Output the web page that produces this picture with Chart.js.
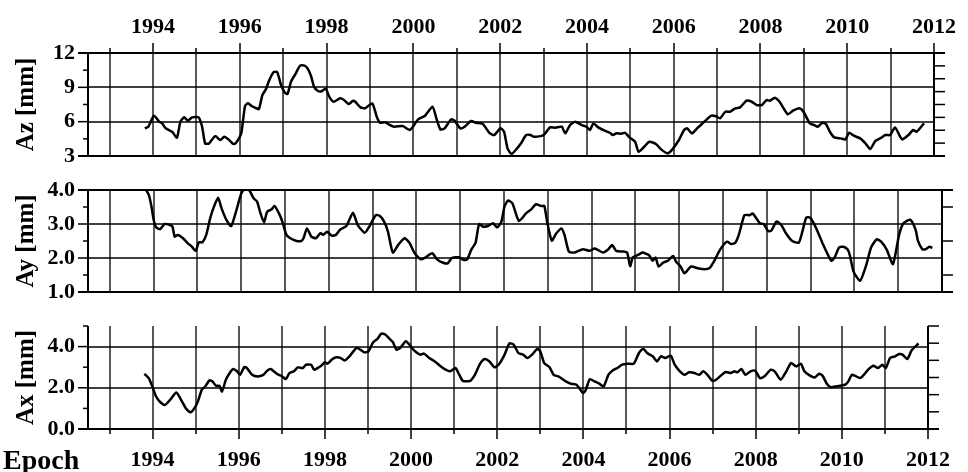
<!DOCTYPE html>
<html>
<head>
<meta charset="utf-8">
<script src="https://cdn.jsdelivr.net/npm/chart.js@4.4.1/dist/chart.umd.min.js"></script>
<style>
  body { margin: 0; background: #fff; }
  #wrap { position: relative; width: 968px; height: 472px; }
  #wrap canvas { position: absolute; left: 0; top: 0; }
</style>
</head>
<body>
<div id="wrap">
  <canvas id="cAz" width="968" height="472"></canvas>
  <canvas id="cAy" width="968" height="472"></canvas>
  <canvas id="cAx" width="968" height="472"></canvas>
</div>
<script>
// Années des graduations (grille verticale)
const yearTicks = [1993, 1994, 1995, 1996, 1997, 1998, 1999, 2000, 2001, 2002,
                   2003, 2004, 2005, 2006, 2007, 2008, 2009, 2010, 2011, 2012];

// Az [mm]
const azEpoch = [1993.81, 1993.89, 1994.02, 1994.14, 1994.21, 1994.29, 1994.44, 1994.55, 1994.63, 1994.72,
  1994.8, 1994.9, 1995.05, 1995.13, 1995.2, 1995.29, 1995.43, 1995.55, 1995.64, 1995.74,
  1995.85, 1995.9, 1996.0, 1996.04, 1996.12, 1996.19, 1996.27, 1996.38, 1996.44, 1996.52,
  1996.6, 1996.68, 1996.78, 1996.86, 1996.95, 1997.04, 1997.1, 1997.18, 1997.28, 1997.39,
  1997.49, 1997.56, 1997.64, 1997.71, 1997.8, 1997.9, 1997.98, 1998.06, 1998.16, 1998.31,
  1998.4, 1998.51, 1998.61, 1998.66, 1998.78, 1998.89, 1999.05, 1999.16, 1999.23, 1999.35,
  1999.43, 1999.56, 1999.75, 1999.84, 1999.92, 2000.0, 2000.11, 2000.26, 2000.44, 2000.53,
  2000.62, 2000.72, 2000.87, 2000.95, 2001.08, 2001.18, 2001.33, 2001.44, 2001.6, 2001.75,
  2001.86, 2002.01, 2002.09, 2002.17, 2002.26, 2002.39, 2002.49, 2002.6, 2002.7, 2002.77,
  2003.0, 2003.15, 2003.27, 2003.42, 2003.5, 2003.61, 2003.73, 2003.88, 2003.99, 2004.07,
  2004.15, 2004.26, 2004.41, 2004.53, 2004.6, 2004.68, 2004.79, 2004.88, 2004.98, 2005.11,
  2005.19, 2005.32, 2005.44, 2005.59, 2005.71, 2005.86, 2005.97, 2006.12, 2006.24, 2006.31,
  2006.42, 2006.54, 2006.65, 2006.86, 2006.96, 2007.07, 2007.19, 2007.3, 2007.42, 2007.53,
  2007.68, 2007.8, 2007.91, 2008.03, 2008.14, 2008.22, 2008.33, 2008.44, 2008.63, 2008.75,
  2008.9, 2008.99, 2009.14, 2009.24, 2009.32, 2009.43, 2009.51, 2009.6, 2009.7, 2009.85,
  2009.96, 2010.04, 2010.15, 2010.3, 2010.42, 2010.53, 2010.65, 2010.76, 2010.88, 2010.99,
  2011.1, 2011.22, 2011.27, 2011.41, 2011.52, 2011.6, 2011.77];
const azValue = [5.42, 5.56, 6.52, 6.0, 5.85, 5.42, 5.12, 4.6, 6.0, 6.38,
  6.08, 6.38, 6.38, 5.56, 4.1, 4.1, 4.74, 4.4, 4.68, 4.45,
  4.05, 4.1, 4.68, 5.12, 7.37, 7.6, 7.37, 7.17, 7.1, 8.33,
  8.83, 9.64, 10.34, 10.34, 9.2, 8.53, 8.42, 9.5, 10.16, 10.9,
  10.9, 10.66, 10.0, 9.06, 8.68, 8.68, 8.91, 8.18, 7.74, 8.04,
  7.9, 7.54, 7.83, 7.74, 7.25, 7.17, 7.6, 6.38, 5.91, 5.95,
  5.77, 5.56, 5.62, 5.42, 5.27, 5.62, 6.2, 6.49, 7.3, 6.29,
  5.33, 5.42, 6.2, 6.08, 5.42, 5.56, 6.06, 5.91, 5.8, 5.03,
  4.83, 5.42, 5.12, 3.67, 3.17, 3.67, 4.16, 4.83, 4.83, 4.68,
  4.83, 5.5, 5.47, 5.56, 4.98, 5.7, 6.0, 5.7, 5.56, 5.27,
  5.85, 5.5, 5.21, 5.03, 4.83, 4.98, 4.95, 5.03, 4.63, 4.25,
  3.37, 3.81, 4.25, 4.05, 3.58, 3.23, 3.58, 4.4, 5.27, 5.42,
  4.98, 5.42, 5.8, 6.52, 6.49, 6.29, 6.87, 6.87, 7.17, 7.25,
  7.83, 7.74, 7.45, 7.45, 7.89, 7.83, 8.1, 7.74, 6.64, 6.96,
  7.17, 6.87, 5.85, 5.7, 5.56, 5.91, 5.8, 5.12, 4.63, 4.54,
  4.45, 5.03, 4.77, 4.54, 4.1, 3.61, 4.33, 4.54, 4.83, 4.83,
  5.5, 4.68, 4.45, 4.83, 5.27, 5.12, 5.85];

// Ay [mm]
const ayEpoch = [1993.81, 1993.89, 1993.95, 1994.0, 1994.06, 1994.15, 1994.25, 1994.37, 1994.43, 1994.48,
  1994.55, 1994.67, 1994.78, 1994.86, 1994.96, 1995.03, 1995.11, 1995.2, 1995.29, 1995.37,
  1995.47, 1995.55, 1995.66, 1995.77, 1995.89, 1996.0, 1996.1, 1996.19, 1996.28, 1996.36,
  1996.44, 1996.52, 1996.59, 1996.69, 1996.76, 1996.88, 1996.95, 1997.03, 1997.12, 1997.26,
  1997.37, 1997.42, 1997.5, 1997.6, 1997.7, 1997.81, 1997.87, 1997.96, 1998.06, 1998.16,
  1998.26, 1998.4, 1998.55, 1998.66, 1998.82, 1998.93, 1999.07, 1999.16, 1999.27, 1999.35,
  1999.46, 1999.58, 1999.73, 1999.84, 1999.96, 2000.1, 2000.21, 2000.36, 2000.47, 2000.61,
  2000.71, 2000.8, 2000.89, 2000.98, 2001.08, 2001.16, 2001.25, 2001.35, 2001.43, 2001.52,
  2001.63, 2001.75, 2001.84, 2001.94, 2002.01, 2002.09, 2002.19, 2002.34, 2002.5, 2002.62,
  2002.73, 2002.85, 2002.92, 2002.99, 2003.09, 2003.19, 2003.31, 2003.38, 2003.48, 2003.61,
  2003.8, 2003.95, 2004.07, 2004.26, 2004.37, 2004.47, 2004.56, 2004.72, 2004.81, 2004.88,
  2004.94, 2005.06, 2005.16, 2005.25, 2005.32, 2005.39, 2005.46, 2005.53, 2005.63, 2005.74,
  2005.86, 2005.93, 2006.03, 2006.12, 2006.27, 2006.42, 2006.58, 2006.69, 2006.81, 2006.94,
  2007.09, 2007.19, 2007.28, 2007.36, 2007.49, 2007.61, 2007.68, 2007.84, 2007.93, 2008.03,
  2008.1, 2008.22, 2008.33, 2008.44, 2008.58, 2008.73, 2008.82, 2008.9, 2008.99, 2009.13,
  2009.28, 2009.47, 2009.55, 2009.65, 2009.75, 2009.85, 2009.9, 2009.98, 2010.13, 2010.27,
  2010.38, 2010.51, 2010.61, 2010.74, 2010.88, 2011.02, 2011.12, 2011.28, 2011.4, 2011.45,
  2011.55, 2011.63, 2011.71, 2011.78];
const ayValue = [4.03, 3.85, 3.51, 3.12, 2.9, 2.85, 3.0, 2.97, 2.92, 2.63,
  2.68, 2.58, 2.43, 2.35, 2.21, 2.46, 2.46, 2.68, 3.17, 3.49,
  3.77, 3.46, 3.12, 2.94, 3.41, 3.9, 4.08, 3.98, 3.76, 3.66,
  3.31, 3.05, 3.36, 3.43, 3.53, 3.26, 3.02, 2.68, 2.58, 2.5,
  2.5, 2.58, 2.87, 2.63, 2.58, 2.73, 2.68, 2.77, 2.66, 2.68,
  2.84, 2.94, 3.33, 2.97, 2.74, 2.94, 3.26, 3.24, 3.05, 2.77,
  2.16, 2.38, 2.58, 2.45, 2.14, 1.96, 2.02, 2.14, 1.96, 1.86,
  1.84, 1.99, 2.02, 2.02, 1.94, 1.96, 2.24, 2.45, 3.0, 2.92,
  2.94, 3.02, 2.9, 3.07, 3.51, 3.69, 3.61, 3.09, 3.31, 3.43,
  3.58, 3.53, 3.53, 3.02, 2.51, 2.72, 2.87, 2.68, 2.19, 2.16,
  2.26, 2.21, 2.28, 2.16, 2.24, 2.38, 2.21, 2.19, 2.16, 1.76,
  2.02, 2.09, 2.16, 2.12, 2.07, 1.92, 2.01, 1.75, 1.86, 1.92,
  2.06, 1.89, 1.75, 1.55, 1.75, 1.7, 1.67, 1.7, 1.94, 2.26,
  2.48, 2.41, 2.45, 2.68, 3.26, 3.26, 3.31, 3.02, 3.0, 2.79,
  2.8, 3.07, 2.97, 2.72, 2.5, 2.45, 2.82, 3.19, 3.19, 2.87,
  2.41, 1.92, 2.02, 2.31, 2.33, 2.24, 2.06, 1.6, 1.33, 1.79,
  2.31, 2.55, 2.48, 2.24, 1.82, 2.68, 3.02, 3.12, 2.82, 2.51,
  2.26, 2.26, 2.33, 2.3];

// Ax [mm]
const axEpoch = [1993.81, 1993.91, 1994.0, 1994.08, 1994.18, 1994.29, 1994.42, 1994.55, 1994.67, 1994.78,
  1994.88, 1994.97, 1995.05, 1995.14, 1995.22, 1995.32, 1995.39, 1995.47, 1995.55, 1995.61,
  1995.7, 1995.79, 1995.87, 1995.96, 1996.03, 1996.13, 1996.19, 1996.31, 1996.44, 1996.57,
  1996.66, 1996.74, 1996.86, 1996.93, 1997.01, 1997.09, 1997.18, 1997.28, 1997.37, 1997.49,
  1997.56, 1997.68, 1997.75, 1997.87, 1997.92, 1998.0, 1998.06, 1998.16, 1998.26, 1998.36,
  1998.46, 1998.57, 1998.66, 1998.74, 1998.82, 1998.92, 1999.01, 1999.12, 1999.22, 1999.31,
  1999.4, 1999.5, 1999.58, 1999.66, 1999.75, 1999.88, 1999.98, 2000.07, 2000.21, 2000.3,
  2000.42, 2000.55, 2000.67, 2000.8, 2000.91, 2001.03, 2001.12, 2001.2, 2001.37, 2001.48,
  2001.6, 2001.71, 2001.82, 2001.94, 2002.05, 2002.17, 2002.28, 2002.38, 2002.49, 2002.6,
  2002.7, 2002.81, 2002.93, 2003.0, 2003.09, 2003.21, 2003.31, 2003.42, 2003.59, 2003.71,
  2003.84, 2003.92, 2003.99, 2004.05, 2004.15, 2004.26, 2004.37, 2004.47, 2004.58, 2004.68,
  2004.79, 2004.9, 2005.02, 2005.17, 2005.29, 2005.39, 2005.48, 2005.61, 2005.71, 2005.8,
  2005.9, 2006.03, 2006.12, 2006.24, 2006.35, 2006.45, 2006.58, 2006.69, 2006.78, 2006.88,
  2006.98, 2007.06, 2007.19, 2007.3, 2007.42, 2007.51, 2007.57, 2007.67, 2007.76, 2007.88,
  2007.99, 2008.1, 2008.22, 2008.35, 2008.44, 2008.58, 2008.71, 2008.82, 2008.94, 2009.05,
  2009.13, 2009.26, 2009.37, 2009.47, 2009.55, 2009.65, 2009.74, 2009.85, 2009.96, 2010.08,
  2010.15, 2010.23, 2010.3, 2010.42, 2010.51, 2010.61, 2010.73, 2010.84, 2010.94, 2011.02,
  2011.12, 2011.24, 2011.33, 2011.41, 2011.52, 2011.62, 2011.78];
const axValue = [2.68, 2.47, 2.03, 1.58, 1.3, 1.17, 1.45, 1.77, 1.38, 0.98,
  0.81, 1.01, 1.33, 1.9, 2.06, 2.36, 2.31, 2.1, 2.1, 1.82,
  2.39, 2.72, 2.91, 2.8, 2.63, 3.01, 2.96, 2.63, 2.55, 2.63,
  2.83, 2.91, 2.72, 2.63, 2.55, 2.42, 2.72, 2.8, 2.99, 2.96,
  3.12, 3.12, 2.88, 3.01, 3.08, 3.24, 3.17, 3.37, 3.48, 3.45,
  3.33, 3.53, 3.77, 3.94, 3.85, 3.72, 3.77, 4.21, 4.38, 4.63,
  4.59, 4.38, 4.21, 3.85, 3.94, 4.26, 4.05, 3.82, 3.61, 3.66,
  3.45, 3.28, 3.07, 2.88, 2.8, 2.96, 2.63, 2.34, 2.34, 2.63,
  3.16, 3.4, 3.28, 2.99, 3.17, 3.61, 4.15, 4.1, 3.69, 3.61,
  3.45, 3.61, 3.89, 3.77, 3.2, 3.01, 2.63, 2.55, 2.31, 2.2,
  2.15, 1.94, 1.74, 1.87, 2.42, 2.31, 2.2, 2.06, 2.63, 2.84,
  2.96, 3.12, 3.17, 3.17, 3.69, 3.9, 3.69, 3.53, 3.28, 3.53,
  3.45, 3.56, 3.12, 2.8, 2.63, 2.75, 2.72, 2.63, 2.8, 2.63,
  2.36, 2.36, 2.59, 2.77, 2.72, 2.8, 2.75, 2.91, 2.63, 2.8,
  2.83, 2.47, 2.59, 2.88, 2.8, 2.39, 2.8, 3.2, 3.04, 3.17,
  2.8, 2.59, 2.5, 2.68, 2.59, 2.2, 2.03, 2.06, 2.1, 2.15,
  2.31, 2.63, 2.59, 2.47, 2.63, 2.88, 3.07, 2.96, 3.12, 2.96,
  3.45, 3.53, 3.64, 3.61, 3.4, 3.82, 4.15];

const serif = '"Liberation Serif", "Times New Roman", serif';
const tickFont = { family: serif, weight: 'bold', size: 22 };
const titleFont = { family: serif, weight: 'bold', size: 25 };

// Grille, cadre, graduations majeures/mineures et "Epoch"
const cadre = {
    id: 'cadre',
    afterDraw(chart, args, o) {
        const ctx = chart.ctx, a = chart.chartArea;
        const xs = chart.scales.x, ys = chart.scales.y;
        const seg = (x1, y1, x2, y2, w) => {
            ctx.lineWidth = w;
            ctx.beginPath(); ctx.moveTo(x1, y1); ctx.lineTo(x2, y2); ctx.stroke();
        };
        ctx.save();
        ctx.strokeStyle = '#000';
        // grille intérieure
        yearTicks.forEach(yr => {
            const x = Math.round(xs.getPixelForValue(yr));
            seg(x, a.top, x, a.bottom, 1.3);
        });
        o.major.forEach(v => {
            const y = Math.round(ys.getPixelForValue(v));
            seg(a.left, y, a.right, y, 1.3);
        });
        // axes et cadre
        seg(a.left, a.top, a.left, a.bottom, 2);
        seg(a.right, a.top, a.right, a.bottom, 2);
        if (o.top) seg(a.left - 10, a.top, a.right + 11, a.top, 2);
        seg(a.left - 10, a.bottom, a.right + 11, a.bottom, 2);
        o.major.forEach(v => { const y = ys.getPixelForValue(v); seg(a.left - 10, y, a.left, y, 1.5); });
        o.minor.forEach(v => { const y = ys.getPixelForValue(v); seg(a.left - 5, y, a.left, y, 1.5); });
        o.right.forEach(v => { const y = ys.getPixelForValue(v); seg(a.right, y, a.right + 11, y, 1.5); });
        if (o.xTicks) {
            yearTicks.forEach(yr => {
                const x = Math.round(xs.getPixelForValue(yr));
                const len = yr % 2 === 0 ? 10 : 5;
                if (o.xTicks === 'top') seg(x, a.top - len, x, a.top, 1.5);
                else seg(x, a.bottom, x, a.bottom + len, 1.5);
            });
        }
        if (o.epoch) {
            ctx.fillStyle = '#000';
            ctx.font = 'bold 28px ' + serif;
            ctx.textBaseline = 'alphabetic';
            ctx.fillText('Epoch', 3, 469);
        }
        ctx.restore();
    }
};

function makePanel(id, epochs, values, cfg) {
    new Chart(document.getElementById(id), {
        type: 'line',
        data: {
            datasets: [{
                data: epochs.map((e, i) => ({ x: e, y: values[i] })),
                borderColor: '#000',
                borderWidth: 2.5,
                pointRadius: 0,
                tension: 0.2,
                fill: false
            }]
        },
        options: {
            responsive: false,
            animation: false,
            layout: { padding: { top: cfg.padTop, bottom: cfg.padBottom, left: 0, right: 26 } },
            plugins: {
                legend: { display: false },
                tooltip: { enabled: false },
                cadre: cfg.cadre
            },
            scales: {
                x: {
                    type: 'linear',
                    position: cfg.xPos,
                    min: 1992.5,
                    max: 2012,
                    afterBuildTicks: s => { s.ticks = yearTicks.map(v => ({ value: v })); },
                    afterFit: s => { s.height = cfg.xHeight; },
                    grid: { display: false, drawTicks: false },
                    border: { display: false },
                    ticks: {
                        display: cfg.xLabels,
                        autoSkip: false,
                        maxRotation: 0,
                        padding: cfg.xPad,
                        color: '#000',
                        font: tickFont,
                        callback: v => (v % 2 === 0 ? String(v) : '')
                    }
                },
                y: {
                    min: cfg.yMin,
                    max: cfg.yMax,
                    afterBuildTicks: s => { s.ticks = cfg.cadre.major.map(v => ({ value: v })); },
                    afterFit: s => { s.width = 88; },
                    grid: { display: false, drawTicks: false },
                    border: { display: false },
                    ticks: { padding: 13, color: '#000', font: tickFont, callback: cfg.fmt },
                    title: {
                        display: true,
                        text: cfg.title,
                        color: '#000',
                        font: titleFont,
                        padding: { top: 12, bottom: 0 }
                    }
                }
            }
        },
        plugins: [cadre]
    });
}

makePanel('cAz', azEpoch, azValue, {
    padTop: 0, padBottom: 316, xPos: 'top', xHeight: 53, xLabels: true, xPad: 12,
    yMin: 3, yMax: 12, title: 'Az [mm]', fmt: v => String(v),
    cadre: { top: true, xTicks: 'top', major: [3, 6, 9, 12], minor: [4.5, 7.5, 10.5],
             right: [3, 4.125, 5.25, 6.375, 7.5, 8.625, 9.75, 10.875, 12] }
});

makePanel('cAy', ayEpoch, ayValue, {
    padTop: 190, padBottom: 180, xPos: 'bottom', xHeight: 0, xLabels: false, xPad: 0,
    yMin: 1, yMax: 4, title: 'Ay [mm]', fmt: v => v.toFixed(1),
    cadre: { top: true, xTicks: null, major: [1, 2, 3, 4], minor: [1.5, 2.5, 3.5],
             right: [1.5, 2.5, 3.5] }
});

makePanel('cAx', axEpoch, axValue, {
    padTop: 326, padBottom: 0, xPos: 'bottom', xHeight: 43, xLabels: true, xPad: 18,
    yMin: 0, yMax: 5, title: 'Ax [mm]', fmt: v => v.toFixed(1),
    cadre: { top: false, xTicks: 'bottom', epoch: true, major: [0, 2, 4], minor: [1, 3, 5],
             right: [0, 0.8333, 1.6667, 2.5, 3.3333, 4.1667, 5] }
});
</script>
</body>
</html>
